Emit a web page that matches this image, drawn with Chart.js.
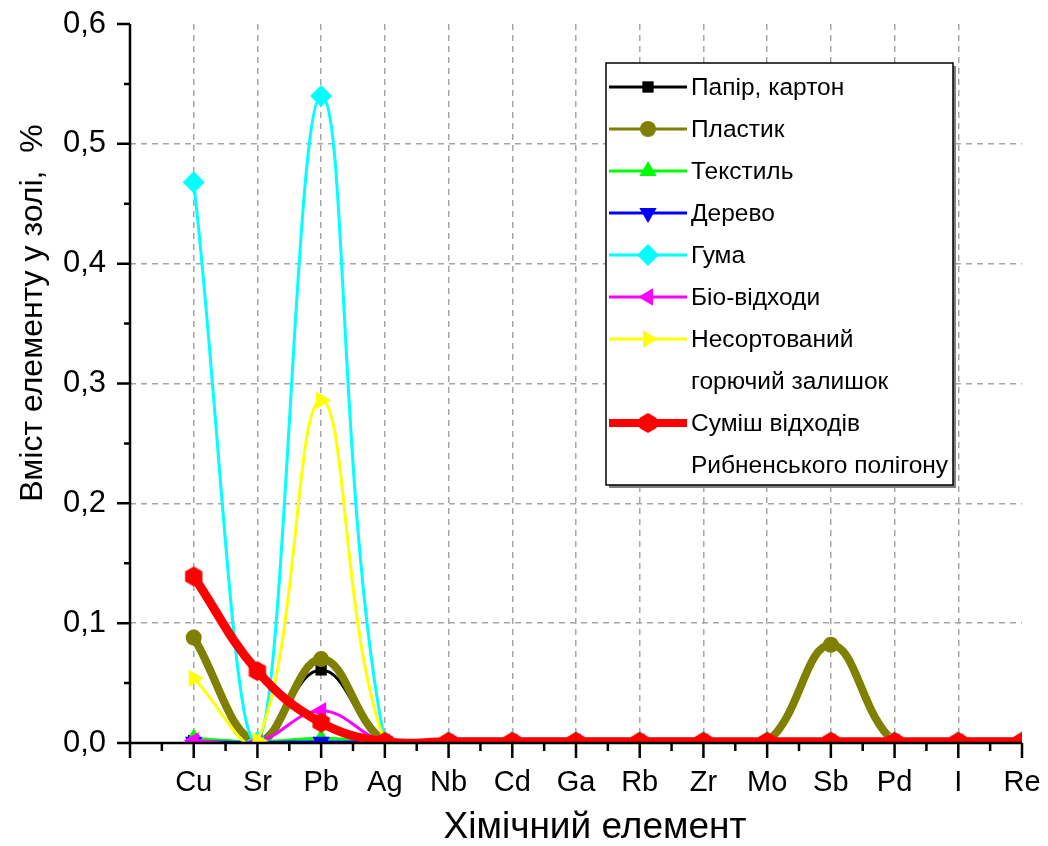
<!DOCTYPE html>
<html>
<head>
<meta charset="utf-8">
<script src="https://cdn.jsdelivr.net/npm/chart.js@4.4.1/dist/chart.umd.min.js"></script>
<style>
html, body { margin: 0; padding: 0; background: #fff; }
canvas { display: block; }
</style>
</head>
<body>
<canvas id="elemChart" width="1048" height="846"></canvas>
<script>
// categories on the x axis
const elements = ['Cu', 'Sr', 'Pb', 'Ag', 'Nb', 'Cd', 'Ga', 'Rb', 'Zr', 'Mo', 'Sb', 'Pd', 'I', 'Re'];

// content of element in ash, %
const paper    = [0.002, 0.001, 0.061, 0.001, 0.001, 0.001, 0.001, 0.001, 0.001, 0.001, 0.001, 0.001, 0.001, 0.001];
const plastic  = [0.088, 0.001, 0.070, 0.001, 0.001, 0.001, 0.001, 0.001, 0.001, 0.001, 0.082, 0.001, 0.001, 0.001];
const textile  = [0.004, 0.001, 0.004, 0.001, 0.002, 0.002, 0.002, 0.002, 0.002, 0.002, 0.002, 0.002, 0.002, 0.002];
const wood     = [0.001, 0.0005, 0.001, 0.0005, 0.0005, 0.0005, 0.0005, 0.0005, 0.0005, 0.0005, 0.0005, 0.0005, 0.0005, 0.0005];
const rubber   = [0.468, 0.001, 0.540, 0.001, 0.001, 0.001, 0.001, 0.001, 0.001, 0.001, 0.001, 0.001, 0.001, 0.001];
const bio      = [0.002, 0.001, 0.027, 0.001, 0.001, 0.001, 0.001, 0.001, 0.001, 0.001, 0.001, 0.001, 0.001, 0.001];
const unsorted = [0.054, 0.002, 0.286, 0.001, 0.001, 0.001, 0.001, 0.001, 0.001, 0.001, 0.001, 0.001, 0.001, 0.001];
const mix      = [0.139, 0.060, 0.017, 0.001, 0.001, 0.001, 0.001, 0.001, 0.001, 0.001, 0.001, 0.001, 0.001, 0.001];

const yTicks = [0, 0.1, 0.2, 0.3, 0.4, 0.5, 0.6];

const xTitle = 'Хімічний елемент';
const yTitle = 'Вміст елементу у золі,  %';

const FONT = "'Liberation Sans', Arial, sans-serif";

function hexMarker(r, color) {
    const c = document.createElement('canvas');
    c.width = c.height = 2 * r + 2;
    const g = c.getContext('2d');
    g.fillStyle = color;
    g.beginPath();
    for (let k = 0; k < 6; k++) {
        const a = -Math.PI / 2 + k * Math.PI / 3;
        const px = r + 1 + r * Math.cos(a), py = r + 1 + r * Math.sin(a);
        if (k === 0) g.moveTo(px, py); else g.lineTo(px, py);
    }
    g.closePath();
    g.fill();
    return c;
}

const series = [
    { label: ['Папір, картон'], data: paper, color: '#000000', width: 3, style: 'rect', radius: 8, rot: 0 },
    { label: ['Пластик'], data: plastic, color: '#808000', width: 8, style: 'circle', radius: 8, rot: 0 },
    { label: ['Текстиль'], data: textile, color: '#00ff00', width: 3, style: 'triangle', radius: 10, rot: 0 },
    { label: ['Дерево'], data: wood, color: '#0000ff', width: 3, style: 'triangle', radius: 10, rot: 180 },
    { label: ['Гума'], data: rubber, color: '#00ffff', width: 3, style: 'rectRot', radius: 11, rot: 0 },
    { label: ['Біо-відходи'], data: bio, color: '#ff00ff', width: 3, style: 'triangle', radius: 10, rot: -90 },
    { label: ['Несортований', 'горючий залишок'], data: unsorted, color: '#ffff00', width: 3, style: 'triangle', radius: 10, rot: 90 },
    { label: ['Суміш відходів', 'Рибненського полігону'], data: mix, color: '#ff0000', width: 9, style: hexMarker(10, '#ff0000'), radius: 10, rot: 0 }
];

const datasets = series.map((s, i) => ({
    label: s.label.join(' '),
    data: s.data.map((v, k) => ({ x: k, y: v })),
    borderColor: s.color,
    backgroundColor: s.color,
    borderWidth: s.width,
    pointStyle: s.style,
    pointRadius: s.radius,
    pointRotation: s.rot,
    pointBorderWidth: 0,
    pointBackgroundColor: s.color,
    tension: 0.4,
    clip: 0,
    order: series.length - i
}));

function drawMarker(ctx, s, x, y) {
    Chart.helpers.drawPoint(ctx, {
        pointStyle: s.style, rotation: s.rot, radius: s.radius, borderWidth: 0
    }, x, y);
}

// axis lines, major/minor ticks and axis titles
const axesPlugin = {
    id: 'axesTicks',
    afterDraw(chart) {
        const { ctx, chartArea: a, scales: { x, y } } = chart;
        ctx.save();
        ctx.strokeStyle = '#000';
        ctx.lineWidth = 2.5;
        ctx.beginPath();
        ctx.moveTo(a.left, a.top);
        ctx.lineTo(a.left, a.bottom);
        ctx.lineTo(a.right, a.bottom);
        for (let v = -1; v <= elements.length - 1; v += 0.5) {
            const px = x.getPixelForValue(v);
            const len = Number.isInteger(v) ? 15 : 8;
            ctx.moveTo(px, a.bottom);
            ctx.lineTo(px, a.bottom + len);
        }
        for (let k = 0; k <= 12; k++) {
            const py = y.getPixelForValue(k * 0.05);
            const len = k % 2 ? 6 : 13;
            ctx.moveTo(a.left, py);
            ctx.lineTo(a.left - len, py);
        }
        ctx.stroke();

        ctx.fillStyle = '#000';
        ctx.textAlign = 'center';
        ctx.textBaseline = 'alphabetic';
        ctx.font = '37px ' + FONT;
        ctx.fillText(xTitle, 595, 838);
        ctx.translate(42, 313);
        ctx.rotate(-Math.PI / 2);
        ctx.font = '32px ' + FONT;
        ctx.fillText(yTitle, 0, 0);
        ctx.restore();
    }
};

const legendPlugin = {
    id: 'boxLegend',
    afterDraw(chart) {
        const ctx = chart.ctx;
        const bx = 606, by = 63, bw = 347, bh = 422;
        ctx.save();
        ctx.fillStyle = '#808080';
        ctx.fillRect(bx + 3, by + 3, bw, bh);
        ctx.fillStyle = '#fff';
        ctx.fillRect(bx, by, bw, bh);
        ctx.strokeStyle = '#000';
        ctx.lineWidth = 1.5;
        ctx.strokeRect(bx, by, bw, bh);

        ctx.font = '24.5px ' + FONT;
        ctx.textBaseline = 'middle';
        ctx.textAlign = 'left';
        let rowY = 87;
        series.forEach(s => {
            ctx.strokeStyle = s.color;
            ctx.fillStyle = s.color;
            ctx.lineWidth = s.width === 9 ? 8 : 3;
            ctx.beginPath();
            ctx.moveTo(609, rowY);
            ctx.lineTo(687, rowY);
            ctx.stroke();
            drawMarker(ctx, s, 648, rowY);
            ctx.fillStyle = '#000';
            s.label.forEach((t, j) => {
                ctx.fillText(t, 691, rowY + 1 + j * 42);
            });
            rowY += 42 * s.label.length;
        });
        ctx.restore();
    }
};

const ctx = document.getElementById('elemChart').getContext('2d');
const elemChart = new Chart(ctx, {
    type: 'line',
    data: { datasets: datasets },
    options: {
        responsive: false,
        animation: false,
        layout: { padding: { top: 24, right: 26, left: 0, bottom: 0 } },
        elements: { line: { capBezierPoints: false } },
        plugins: {
            legend: { display: false },
            tooltip: { enabled: false }
        },
        scales: {
            x: {
                type: 'linear',
                min: -1,
                max: elements.length - 1,
                afterFit: s => { s.height = 103; s.paddingLeft = 0; s.paddingRight = 0; },
                afterBuildTicks: s => {
                    s.ticks = [];
                    for (let v = -1; v <= elements.length - 1; v++) s.ticks.push({ value: v });
                },
                ticks: {
                    autoSkip: false,
                    maxRotation: 0,
                    padding: 23,
                    color: '#000',
                    font: { family: FONT, size: 29 },
                    callback: v => elements[v] !== undefined ? elements[v] : ''
                },
                grid: {
                    drawTicks: false,
                    lineWidth: 1.5,
                    color: c => (c.tick && c.tick.value >= 0 && c.tick.value < elements.length - 1) ? '#a6a6a6' : 'rgba(0,0,0,0)'
                },
                border: { display: false, dash: [6, 5] }
            },
            y: {
                min: 0,
                max: 0.6,
                afterFit: s => { s.width = 130; s.paddingTop = 0; s.paddingBottom = 0; },
                afterBuildTicks: s => { s.ticks = yTicks.map(v => ({ value: v })); },
                ticks: {
                    padding: 24,
                    color: '#000',
                    font: { family: FONT, size: 31 },
                    callback: v => v.toFixed(1).replace('.', ',')
                },
                grid: {
                    drawTicks: false,
                    lineWidth: 1.5,
                    color: c => (c.tick && c.tick.value > 0.001 && c.tick.value < 0.59) ? '#a6a6a6' : 'rgba(0,0,0,0)'
                },
                border: { display: false, dash: [6, 5] }
            }
        }
    },
    plugins: [axesPlugin, legendPlugin]
});
</script>
</body>
</html>
